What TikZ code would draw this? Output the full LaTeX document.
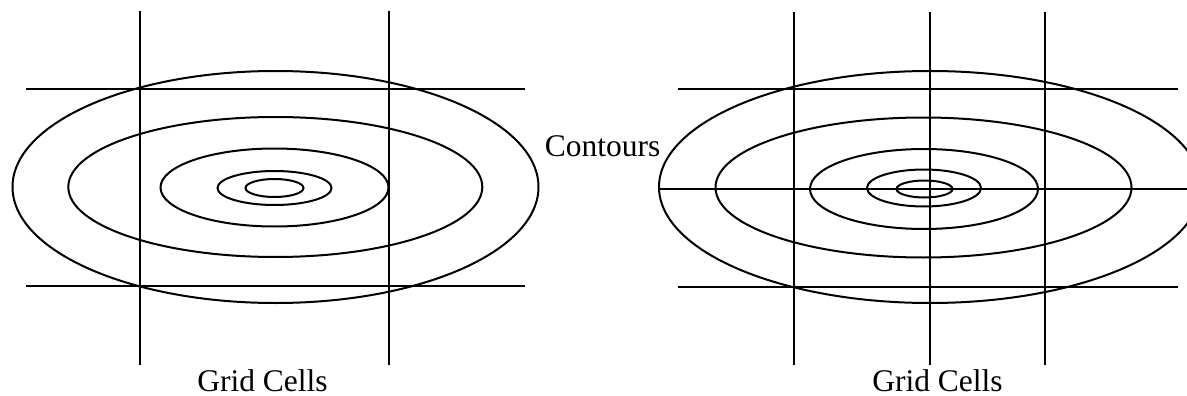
\documentclass[tikz,border=0pt]{standalone}
\usepackage{fontspec}
\setmainfont{Liberation Serif}
\tikzset{
  gridline/.style={line width=2.2pt, black},
  contour/.style={line width=2pt, black},
  lbl/.style={anchor=base, inner sep=0pt, font=\fontsize{31.5}{36}\selectfont},
}
\begin{document}
\begin{tikzpicture}[x=1pt,y=-1pt]
\useasboundingbox (0,0) rectangle (1187,396);
% ---------- left diagram ----------
\begin{scope}
\draw[contour] (275.5,187) ellipse [x radius=263, y radius=116];
\draw[contour] (275.3,187) ellipse [x radius=207, y radius=70];
\draw[contour] (274.5,187.5) ellipse [x radius=114, y radius=39];
\draw[contour] (274.5,188) ellipse [x radius=57, y radius=17];
\draw[contour] (274.5,188) ellipse [x radius=29, y radius=9];
\draw[gridline] (140,11) -- (140,365);
\draw[gridline] (389,11) -- (389,365);
\draw[gridline] (26,89) -- (525,89);
\draw[gridline] (26,286) -- (525,286);
\end{scope}
% ---------- right diagram ----------
\begin{scope}
\draw[contour] (930,187) ellipse [x radius=271, y radius=116];
\draw[contour] (923.5,187.5) ellipse [x radius=208, y radius=70];
\draw[contour] (924,189) ellipse [x radius=114, y radius=40];
\draw[contour] (924,188) ellipse [x radius=57, y radius=18.5];
\draw[contour] (924.5,189) ellipse [x radius=28, y radius=8.5];
\draw[gridline] (794,12) -- (794,365);
\draw[gridline] (930,12) -- (930,365);
\draw[gridline] (1045,12) -- (1045,365);
\draw[gridline] (678,89) -- (1178,89);
\draw[gridline] (659,189) -- (1187,189);
\draw[gridline] (678,287) -- (1178,287);
\end{scope}
% ---------- labels ----------
\node[lbl] (contours) at (602.5,156) {Contours};
\node[lbl] (gridL) at (262.5,391) {Grid Cells};
\node[lbl] (gridR) at (937.5,391) {Grid Cells};
\end{tikzpicture}
\end{document}
